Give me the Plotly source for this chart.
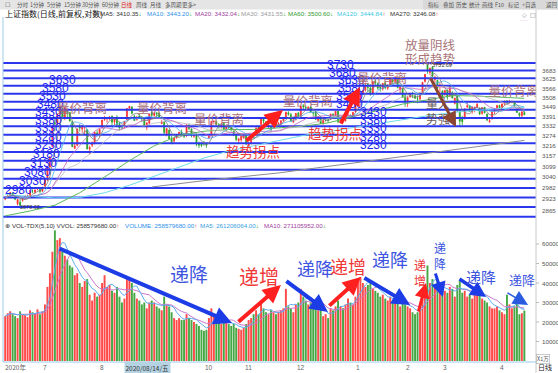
import math
import pandas as pd
import plotly.graph_objects as go

W, H = 558, 373
CJK = "Noto Sans CJK SC"
LAT = "Liberation Sans, Arial, DejaVu Sans"

# ---------------- data: 上证指数 daily bars (2020-06-05 .. 2021-04-15) ----------------
opens = [
    2922, 2935, 2939, 2955, 2938, 2897, 2905, 2915, 2930, 2934, 2942, 2966, 2957, 2975, 2972, 2963,
    2991, 3025, 3095, 3211, 3351, 3345, 3408, 3426, 3380, 3427, 3414, 3357, 3201, 3218, 3327, 3313, 3323, 3309, 3196, 3218, 3227, 3290, 3277,
    3322, 3368, 3374, 3375, 3391, 3355, 3384, 3342, 3323, 3327, 3370, 3439, 3447, 3390, 3370, 3391, 3386, 3371, 3325, 3348, 3412,
    3395, 3411, 3410, 3345, 3356, 3286, 3307, 3256, 3243, 3262, 3285, 3296, 3280, 3272, 3335, 3314, 3270, 3276, 3225, 3226, 3235, 3225,
    3262, 3278, 3358, 3357, 3339, 3329, 3348, 3314, 3329, 3321, 3302, 3279, 3246, 3249, 3263, 3273,
    3212, 3226, 3278, 3295, 3323, 3340, 3372, 3357, 3330, 3323, 3320, 3345, 3337, 3344, 3363, 3381, 3411, 3400, 3355, 3370, 3409,
    3388, 3455, 3445, 3434, 3447, 3412, 3418, 3364, 3376, 3344, 3367, 3369, 3371, 3402, 3397, 3420, 3353, 3384, 3362, 3396, 3396, 3379, 3418,
    3474, 3492, 3528, 3552, 3588, 3566, 3533, 3609, 3597, 3569, 3560, 3598, 3565, 3587, 3620, 3608, 3627, 3559, 3565, 3517,
    3482, 3509, 3532, 3517, 3499, 3497, 3536, 3608, 3721, 3667, 3704, 3621, 3616, 3576, 3548,
    3525, 3551, 3514, 3534, 3468, 3516, 3419, 3376, 3373, 3448, 3455, 3419, 3428, 3445, 3437, 3407, 3445, 3404, 3356, 3378, 3421, 3435, 3456,
    3445, 3465, 3484, 3477, 3476, 3477, 3436, 3407, 3392, 3413,
]
highs = [
    2936, 2946, 2960, 2958, 2941, 2922, 2923, 2933, 2942, 2945, 2969, 2973, 2973, 2985, 2976, 2986,
    3027, 3091, 3154, 3332, 3387, 3404, 3458, 3444, 3444, 3434, 3415, 3363, 3229, 3316, 3343, 3335, 3330, 3314, 3215, 3241, 3294, 3306, 3316,
    3368, 3392, 3384, 3391, 3394, 3381, 3397, 3357, 3334, 3360, 3438, 3451, 3452, 3399, 3393, 3404, 3390, 3378, 3352, 3406, 3425,
    3413, 3414, 3412, 3367, 3358, 3318, 3309, 3272, 3262, 3280, 3296, 3310, 3289, 3340, 3345, 3315, 3288, 3283, 3239, 3235, 3243, 3232,
    3280, 3359, 3365, 3364, 3349, 3349, 3353, 3331, 3339, 3323, 3303, 3281, 3262, 3272, 3280, 3277,
    3236, 3273, 3286, 3321, 3326, 3373, 3375, 3360, 3341, 3326, 3347, 3354, 3355, 3365, 3379, 3417, 3421, 3410, 3375, 3408, 3417,
    3456, 3465, 3456, 3452, 3451, 3419, 3423, 3391, 3382, 3369, 3380, 3375, 3404, 3408, 3421, 3425, 3384, 3397, 3397, 3409, 3401, 3414, 3474,
    3511, 3529, 3556, 3601, 3600, 3592, 3608, 3619, 3600, 3593, 3597, 3606, 3589, 3622, 3626, 3644, 3627, 3576, 3565, 3527,
    3517, 3535, 3542, 3528, 3519, 3532, 3603, 3656, 3731.69, 3697, 3705, 3646, 3616, 3601, 3548,
    3553, 3557, 3578, 3546, 3505, 3518, 3434, 3393, 3437, 3477, 3455, 3448, 3449, 3471, 3445, 3443, 3447, 3405, 3377, 3418, 3437, 3457, 3461,
    3466, 3485, 3490, 3491, 3485, 3478, 3437, 3414, 3420, 3421,
]
lows = [
    2916, 2928, 2933, 2937, 2916, 2888, 2878, 2908, 2919, 2925, 2935, 2953, 2950, 2968, 2951, 2961,
    2988, 3018, 3091, 3206, 3299, 3334, 3387, 3376, 3366, 3380, 3357, 3207, 3196, 3212, 3298, 3291, 3279, 3196, 3165, 3207, 3224, 3278, 3264,
    3322, 3363, 3351, 3367, 3329, 3335, 3332, 3305, 3310, 3316, 3367, 3424, 3402, 3361, 3363, 3373, 3354, 3324, 3306, 3343, 3383,
    3387, 3386, 3377, 3343, 3283, 3270, 3254, 3223, 3230, 3256, 3270, 3275, 3259, 3267, 3307, 3264, 3261, 3212, 3202, 3207, 3215, 3203,
    3255, 3278, 3340, 3334, 3315, 3316, 3307, 3297, 3317, 3299, 3271, 3242, 3232, 3238, 3255, 3220,
    3209, 3225, 3256, 3292, 3301, 3340, 3345, 3330, 3319, 3297, 3318, 3327, 3334, 3338, 3356, 3377, 3393, 3357, 3348, 3364, 3384,
    3386, 3434, 3428, 3429, 3412, 3390, 3371, 3353, 3343, 3340, 3358, 3351, 3371, 3380, 3392, 3349, 3347, 3361, 3358, 3386, 3376, 3374, 3411,
    3474, 3485, 3521, 3544, 3544, 3517, 3525, 3575, 3555, 3543, 3549, 3559, 3553, 3582, 3594, 3596, 3563, 3532, 3503, 3447,
    3446, 3506, 3502, 3497, 3470, 3488, 3536, 3601, 3658, 3649, 3638, 3599, 3524, 3537, 3503,
    3516, 3492, 3512, 3499, 3463, 3419, 3328, 3337, 3373, 3438, 3417, 3405, 3414, 3440, 3397, 3399, 3407, 3360, 3350, 3369, 3403, 3421, 3435,
    3438, 3459, 3463, 3469, 3470, 3448, 3411, 3383, 3387, 3397,
]
closes = [
    2930, 2937, 2956, 2944, 2921, 2919, 2890, 2931, 2935, 2939, 2967, 2965, 2970, 2979, 2962, 2985,
    3025, 3090, 3152, 3332, 3345, 3403, 3450, 3383, 3443, 3415, 3361, 3210, 3214, 3314, 3320, 3333, 3325, 3196, 3205, 3228, 3294, 3286, 3310,
    3367, 3371, 3377, 3386, 3354, 3379, 3340, 3319, 3320, 3360, 3438, 3451, 3408, 3364, 3381, 3385, 3373, 3330, 3350, 3404, 3396,
    3410, 3405, 3385, 3355, 3293, 3316, 3255, 3234, 3260, 3278, 3295, 3283, 3270, 3338, 3316, 3274, 3279, 3223, 3219, 3217, 3224, 3218,
    3272, 3359, 3359, 3340, 3332, 3336, 3313, 3328, 3325, 3312, 3278, 3251, 3254, 3270, 3272, 3225,
    3225, 3272, 3277, 3320, 3312, 3373, 3360, 3342, 3338, 3310, 3347, 3339, 3347, 3363, 3378, 3414, 3402, 3362, 3369, 3408, 3392,
    3451, 3449, 3442, 3445, 3416, 3410, 3371, 3373, 3347, 3369, 3367, 3366, 3404, 3394, 3421, 3357, 3383, 3363, 3397, 3397, 3379, 3414, 3473,
    3503, 3529, 3550, 3576, 3570, 3531, 3608, 3598, 3565, 3566, 3596, 3567, 3584, 3621, 3607, 3625, 3570, 3573, 3506, 3483,
    3505, 3533, 3518, 3501, 3496, 3532, 3603, 3655, 3675, 3696, 3642, 3636, 3564, 3585, 3509,
    3551, 3508, 3577, 3503, 3502, 3421, 3360, 3357, 3436, 3454, 3419, 3447, 3445, 3463, 3405, 3443, 3411, 3367, 3363, 3418, 3435, 3457, 3441,
    3466, 3484, 3478, 3480, 3482, 3451, 3413, 3396, 3417, 3399,
]
# volume, unit ×1万
volumes = [
    23000, 24500, 25500, 24000, 23000, 22000, 25500, 24000, 23500, 22500, 26000, 25000, 24500, 26500, 24000, 25500,
    29000, 38000, 45000, 56000, 67000, 62000, 63000, 56000, 54000, 52000, 49000, 48000, 44000, 45000, 40000, 38000, 41000, 42000, 34000, 31000, 35000, 33000, 34000,
    40000, 44000, 38000, 39000, 36000, 35000, 38000, 33000, 30000, 32000, 43000, 42000, 40000, 35000, 32000, 31000, 29000, 30000, 27000, 30000, 31000,
    30000, 28000, 27000, 26000, 33000, 29000, 28000, 25000, 22000, 21000, 22000, 21000, 21000, 24000, 22000, 21000, 20000, 19000, 18000, 16000, 15500, 16000,
    22000, 27000, 24000, 21000, 20000, 19000, 20000, 21000, 19000, 18000, 19000, 17000, 16500, 16000, 17000, 19000,
    21000, 22000, 24000, 26000, 24000, 30000, 27000, 25000, 24000, 26000, 25000, 24000, 25000, 26000, 27000, 37000, 28000, 27000, 25000, 29000, 30000,
    37000, 33000, 31000, 29000, 30000, 28000, 32000, 26000, 27000, 23000, 24000, 22000, 27000, 26000, 28000, 31000, 28000, 27000, 29000, 32000, 30000, 29000, 33000,
    41000, 43000, 40000, 38000, 39000, 41000, 37000, 36000, 35000, 33000, 34000, 32000, 31000, 33000, 30000, 32000, 31000, 28000, 30000, 29000,
    28000, 27000, 25000, 24000, 25000, 27000, 33000, 39000, 49000, 40000, 42000, 38000, 41000, 36000, 37000,
    36000, 35000, 38000, 37000, 33000, 39000, 41000, 35000, 36000, 33000, 34000, 32000, 36000, 37000, 35000, 32000, 31000, 30000, 28000, 27000, 27000, 28000, 26000,
    25000, 24000, 34000, 29000, 27000, 28000, 30000, 24000, 24500, 25858,
]

# long moving averages (bar index, value)
ma60_idx = [0, 10, 20, 30, 40, 50, 60, 70, 80, 90, 100, 110, 120, 130, 140, 150, 160, 170, 180, 190, 200, 209]
ma60_val = [2835, 2860, 2890, 2955, 3040, 3130, 3215, 3275, 3300, 3310, 3310, 3318, 3330, 3350, 3385, 3425, 3465, 3492, 3518, 3515, 3505, 3500.6]
ma120_idx = [0, 10, 20, 30, 40, 50, 60, 70, 80, 90, 100, 110, 120, 130, 140, 150, 160, 170, 180, 190, 200, 209]
ma120_val = [2945, 2935, 2928, 2930, 2955, 2995, 3045, 3095, 3145, 3185, 3215, 3245, 3275, 3298, 3322, 3348, 3372, 3393, 3413, 3428, 3439, 3444.84]
ma270_idx = [59, 80, 110, 159, 185, 209]
ma270_val = [2986, 3020, 3062, 3153, 3200, 3246.08]

# support / resistance guide levels (drawn as blue horizontal lines)
guide_levels = [2830, 2880, 2930, 2980, 3030, 3080, 3130, 3180, 3230, 3280, 3330,
                3380, 3430, 3480, 3530, 3580, 3630, 3680, 3730]
left_label_levels = [2980, 3030, 3080, 3130, 3180, 3230, 3280, 3330, 3380, 3430, 3480, 3530, 3580, 3630]
mid_label_levels = [3730, 3680, 3630, 3580, 3530, 3480, 3430, 3380, 3330, 3280, 3230]

price_ticks = [3683, 3625, 3566, 3508, 3449, 3391, 3332, 3274, 3216, 3157, 3099, 3040, 2982, 2923, 2865]
vol_ticks = [10000, 20000, 30000, 40000, 50000, 60000]
month_labels = ["7", "8", "10", "11", "12", "1", "2", "3", "4"]
month_index = [16, 39, 82, 98, 119, 142, 162, 177, 200]

# ---------------- derived series ----------------
n = len(closes)
idx = list(range(n))
cs = pd.Series(closes, dtype=float)
ma5 = cs.rolling(5, min_periods=1).mean()
ma10 = cs.rolling(10, min_periods=1).mean()
ma20 = cs.rolling(20, min_periods=1).mean()
ma30 = cs.rolling(30, min_periods=1).mean()
vs = pd.Series(volumes, dtype=float)
vma5 = vs.rolling(5, min_periods=1).mean()
vma10 = vs.rolling(10, min_periods=1).mean()

RED = "#ff2e2e"
GREEN = "#27a127"
vcolors = ["#ff4a4a" if c >= o else "#45a845" for o, c in zip(opens, closes)]

XR = [-0.886, 213.69]

fig = go.Figure()

# guide lines
gx, gy = [], []
for lv in guide_levels:
    gx += [XR[0], XR[1], None]
    gy += [lv, lv, None]
fig.add_trace(go.Scatter(x=gx, y=gy, mode="lines", line=dict(color="#2b37ee", width=2),
                         xaxis="x", yaxis="y", hoverinfo="skip"))

# long MAs
fig.add_trace(go.Scatter(x=ma270_idx, y=ma270_val, mode="lines", line=dict(color="#8c8c8c", width=1),
                         xaxis="x", yaxis="y", hoverinfo="skip"))
fig.add_trace(go.Scatter(x=ma120_idx, y=ma120_val, mode="lines", line=dict(color="#6fdcea", width=1),
                         xaxis="x", yaxis="y", hoverinfo="skip"))
fig.add_trace(go.Scatter(x=ma60_idx, y=ma60_val, mode="lines", line=dict(color="#5cb85c", width=1),
                         xaxis="x", yaxis="y", hoverinfo="skip"))
# short MAs
for s, col in [(ma30, "#b8b8b8"), (ma20, "#c060c0"), (ma10, "#4aa8f0"), (ma5, "#7a7a7a")]:
    fig.add_trace(go.Scatter(x=idx, y=s, mode="lines", line=dict(color=col, width=0.8),
                             xaxis="x", yaxis="y", hoverinfo="skip"))

fig.add_trace(go.Candlestick(
    x=idx, open=opens, high=highs, low=lows, close=closes,
    increasing=dict(line=dict(color=RED, width=0.8), fillcolor=RED),
    decreasing=dict(line=dict(color=GREEN, width=0.8), fillcolor=GREEN),
    whiskerwidth=0, xaxis="x", yaxis="y", hoverinfo="skip"))

# volume
fig.add_trace(go.Bar(x=idx, y=volumes, marker=dict(color=vcolors, line=dict(width=0)),
                     xaxis="x2", yaxis="y2", hoverinfo="skip"))
fig.add_trace(go.Scatter(x=idx, y=vma10, mode="lines", line=dict(color="#cc77cc", width=1),
                         xaxis="x2", yaxis="y2", hoverinfo="skip"))
fig.add_trace(go.Scatter(x=idx, y=vma5, mode="lines", line=dict(color="#5aaef0", width=1),
                         xaxis="x2", yaxis="y2", hoverinfo="skip"))

# clipped text at right edge
fig.add_trace(go.Scatter(x=[204.6], y=[3534], mode="text", text=["量价背离"],
                         textfont=dict(family=CJK, size=12.5, color="#a86c78"),
                         cliponaxis=True, xaxis="x", yaxis="y", hoverinfo="skip"))

ann = []
L10 = math.log10


def tm(text, i, v, size, color, xanchor="center", yshift=0, family=CJK):
    ann.append(dict(x=i, y=L10(v), xref="x", yref="y", text=text, showarrow=False,
                    font=dict(family=family, size=size, color=color),
                    xanchor=xanchor, yanchor="middle", yshift=yshift))


def tv(text, i, v, size, color):
    ann.append(dict(x=i, y=v, xref="x2", yref="y2", text=text, showarrow=False,
                    font=dict(family=CJK, size=size, color=color), xanchor="center", yanchor="middle"))


def am(i0, v0, i1, v1, color, width, size=1.0):
    ann.append(dict(x=i1, y=L10(v1), ax=i0, ay=L10(v0), xref="x", yref="y", axref="x", ayref="y",
                    text="", showarrow=True, arrowhead=2, arrowsize=size, arrowwidth=width, arrowcolor=color))


def av(i0, v0, i1, v1, color, width, size=1.0):
    ann.append(dict(x=i1, y=v1, ax=i0, ay=v0, xref="x2", yref="y2", axref="x2", ayref="y2",
                    text="", showarrow=True, arrowhead=2, arrowsize=size, arrowwidth=width, arrowcolor=color))


def tp(text, px, py, size, color, xanchor="left", family=LAT, **kw):
    d = dict(x=px / W, y=1 - py / H, xref="paper", yref="paper", text=text, showarrow=False,
             font=dict(family=family, size=size, color=color), xanchor=xanchor, yanchor="middle")
    d.update(kw)
    ann.append(d)


# right-hand axis labels (placed just right of the plot frame)
for t in price_ticks:
    ann.append(dict(x=540 / W, y=L10(t), xref="paper", yref="y", text=str(t), showarrow=False,
                    font=dict(family=LAT, size=6.2, color="#555"), xanchor="left", yanchor="middle"))
for t in vol_ticks:
    ann.append(dict(x=540 / W, y=t, xref="paper", yref="y2", text=str(t), showarrow=False,
                    font=dict(family=LAT, size=6.2, color="#555"), xanchor="left", yanchor="middle"))

# staircase level labels
left_label_x = [-0.9, 4.8, 6.8, 9.2, 10.4, 11.2, 11.2, 11.2, 11.2, 11.2, 12.0, 12.8, 14.0, 16.8]
for lv, xi in zip(left_label_levels, left_label_x):
    tm(str(lv), max(xi, -0.85), lv, 12, "#2424f0", xanchor="left", yshift=-2, family=LAT)
mid_label_x = [128.7, 129.5, 133.2, 133.2, 132.4, 132.4, 142.0, 142.0, 142.0, 142.0, 142.0]
for lv, xi in zip(mid_label_levels, mid_label_x):
    tm(str(lv), xi, lv, 12, "#2424f0", xanchor="left", yshift=-2, family=LAT)

ROSE = "#a86c78"
for (i, v) in [(30.9, 3446.7), (63.1, 3446.7), (86.1, 3379.3), (121.9, 3490.3), (151.7, 3637.3)]:
    tm("量价背离", i, v, 12.5, ROSE)
tm("趋势拐点", 99.8, 3185.0, 13.5, "#ee3b3b")
tm("趋势拐点", 132.8, 3289.6, 13.5, "#ee3b3b")
tm("放量阴线", 171.4, 3855.7, 12.5, "#a87478")
tm("形成趋势", 171.4, 3763.4, 12.5, "#a87478")
tm("量大", 174.2, 3477.7, 12, "#6b5a5a")
tm("势强", 174.2, 3379.3, 12, "#6b5a5a")
tm("3731.69", 171.0, 3719.8, 5.5, "#333", xanchor="left", family=LAT)
tm("2878.02", 5.2, 2883.1, 5.5, "#333", xanchor="left", family=LAT)

am(96.5, 3237, 111.8, 3428, "#ff1e1e", 4, 0.9)
am(134.8, 3337, 142.8, 3573, "#ff1e1e", 4, 0.9)
am(171.0, 3637, 181.5, 3325, "#8b4533", 3, 1.0)

BLUE = "#1c3ce6"
RARR = "#ff2020"
av(21.3, 57949, 91.3, 19487, BLUE, 4, 0.9)
av(93.3, 19487, 111.0, 38974, RARR, 4, 0.9)
av(112.6, 41538, 129.9, 25128, BLUE, 4, 0.9)
av(129.9, 27692, 143.2, 43077, RARR, 4, 0.9)
av(144.0, 43077, 163.0, 28718, BLUE, 4, 0.9)
av(166.2, 24615, 169.4, 40000, RARR, 3, 1.0)
av(173.0, 45641, 176.2, 32821, BLUE, 3, 1.0)
av(182.3, 42564, 193.6, 32821, BLUE, 3.5, 0.9)
av(201.6, 35385, 210.5, 28718, "#2a5ae0", 1.5, 2.0)

TB = "#3d55e0"
TR = "#f03838"
tv("递降", 74.1, 45128, 19, TB)
tv("递增", 102.2, 43590, 20, TR)
tv("递降", 124.7, 47692, 18, TB)
tv("递增", 138.0, 48718, 18, TR)
tv("递降", 154.9, 52308, 18, TB)
tv("递<br>增", 167.0, 45641, 12, TR)
tv("递<br>降", 175.0, 53846, 12, TB)
tv("递降", 191.6, 43590, 15, TB)
tv("递降", 208.1, 42051, 13, TB)

# header of price panel
G = '<span style="color:#1a9a1a">↓</span>'
R = '<span style="color:#ee2222">↑</span>'
tp("上证指数(日线,前复权,对数)", 3, 13.5, 8, "#111", family=CJK)
tp("⊕", 91, 13.5, 6, "#444")
tp("MA5: 3410.35" + G, 98, 13.5, 6.2, "#333")
tp("MA10: 3443.20" + G, 145, 13.5, 6.2, "#2b8fe8")
tp("MA20: 3432.04" + G, 193, 13.5, 6.2, "#a03aa0")
tp("MA30: 3431.55" + G, 239, 13.5, 6.2, "#9a9a9a")
tp("MA60: 3500.60" + G, 286, 13.5, 6.2, "#2f9a2f")
tp("MA120: 3444.84" + R, 335, 13.5, 6.2, "#3cc8e0")
tp("MA270: 3246.08" + R, 388, 13.5, 6.2, "#333")
tp("◇", 520, 14, 6, "#777", family="DejaVu Sans")
tp("□", 528, 14, 6, "#777", family="DejaVu Sans")
tp("····", 518, 20, 6, "#ee66cc")

# header of volume panel
tp("⊕ VOL-TDX(5,10) VVOL: 258579680.00" + R, 3, 225.5, 6.2, "#333")
tp("VOLUME: 258579680.00" + R, 123, 225.5, 6.2, "#2b8fe8")
tp("MA5: 261206064.00" + G, 198, 225.5, 6.2, "#3aa0e0")
tp("MA10: 271105952.00" + G, 262, 225.5, 6.2, "#a040a0")

# toolbar
for t, px, col in [("☐", 3, "#555"), ("分时", 15, "#555"), ("1分钟", 28, "#555"), ("5分钟", 45, "#555"),
                   ("15分钟", 62, "#555"), ("30分钟", 80, "#555"), ("60分钟", 100, "#555"),
                   ("日线", 119, "#e02020"), ("周线", 134, "#555"), ("月线", 148, "#555"),
                   ("多周期", 163, "#555"), ("更多>", 180, "#555"),
                   ("指标", 426, "#555"), ("叠加", 441, "#555"), ("历史", 454, "#555"), ("统计", 467, "#555"),
                   ("画线", 480, "#555"), ("F10", 493, "#555"), ("标记", 506, "#555"), ("+自选", 520, "#555"),
                   ("返回", 544, "#555")]:
    tp(t, px, 5, 5.5, col, family=CJK)

# time axis labels
tp("2020年", 3, 367, 6.5, "#666", family=CJK)
for lab, i in zip(month_labels, month_index):
    ann.append(dict(x=i, y=1 - 367 / H, xref="x2", yref="paper", text=lab, showarrow=False,
                    font=dict(family=LAT, size=6.5, color="#666"), xanchor="center", yanchor="middle"))
ann.append(dict(x=48, y=1 - 367 / H, xref="x2", yref="paper", text="2020/08/14/五", showarrow=False,
                font=dict(family=CJK, size=6.5, color="#333"), xanchor="left", yanchor="middle",
                bgcolor="#b6d3e4", borderpad=0.5))
tp("日线", 545, 367, 7, "#222", xanchor="center", family=CJK)
tp("X1万", 543, 358.5, 5.5, "#555", xanchor="center", family=CJK, bordercolor="#aaa", borderwidth=0.6,
   borderpad=0.5, bgcolor="white")

shapes = [
    dict(type="rect", xref="paper", yref="paper", x0=0, x1=1, y0=1 - 9.5 / H, y1=1,
         fillcolor="#e5e5e5", line=dict(width=0), layer="below"),
    dict(type="rect", xref="paper", yref="paper", x0=423 / W, x1=1, y0=1 - 9.5 / H, y1=1,
         fillcolor="#d9d9d9", line=dict(width=0), layer="below"),
    dict(type="line", xref="paper", yref="paper", x0=3 / W, x1=3 / W, y0=1 - 362 / H, y1=1 - 17 / H,
         line=dict(color="#9ccbe8", width=1)),
    dict(type="line", xref="paper", yref="paper", x0=536 / W, x1=536 / W, y0=0, y1=1 - 10 / H,
         line=dict(color="#c8c8c8", width=1)),
    dict(type="line", xref="paper", yref="paper", x0=3 / W, x1=536 / W, y0=1 - 362 / H, y1=1 - 362 / H,
         line=dict(color="#9ccbe8", width=1)),
]
# small tick marks on the right frame
for t in price_ticks:
    shapes.append(dict(type="line", xref="paper", yref="y", x0=536 / W, x1=539 / W, y0=L10(t), y1=L10(t),
                       line=dict(color="#bbb", width=1)))
for t in vol_ticks:
    shapes.append(dict(type="line", xref="paper", yref="y2", x0=536 / W, x1=539 / W, y0=t, y1=t,
                       line=dict(color="#bbb", width=1)))

fig.update_layout(
    width=W, height=H, margin=dict(l=0, r=0, t=0, b=0),
    paper_bgcolor="white", plot_bgcolor="white", showlegend=False,
    bargap=0.22, boxgap=0.45,
    annotations=ann, shapes=shapes,
    xaxis=dict(domain=[3 / W, 536 / W], range=XR, anchor="y", showticklabels=False, showgrid=False,
               zeroline=False, showline=False, rangeslider=dict(visible=False), fixedrange=True),
    yaxis=dict(domain=[1 - 219 / H, 1 - 17 / H], type="log", range=[L10(2819.2), L10(4050.8)],
               anchor="x", showticklabels=False, ticks="", showgrid=False, zeroline=False, showline=False),
    xaxis2=dict(domain=[3 / W, 536 / W], range=XR, anchor="y2", matches="x", showticklabels=False,
                showgrid=False, zeroline=False, showline=False),
    yaxis2=dict(domain=[1 - 361 / H, 1 - 219 / H], range=[0, 72820], anchor="x2",
                showticklabels=False, ticks="", showgrid=False, zeroline=False, showline=False),
)

fig.write_html("out.html", config={"displayModeBar": False, "staticPlot": True})
with open("out.html", "r", encoding="utf-8") as f:
    html = f.read()
html = html.replace("<body>", '<body style="margin:0;padding:0;overflow:hidden">', 1)
with open("out.html", "w", encoding="utf-8") as f:
    f.write(html)
